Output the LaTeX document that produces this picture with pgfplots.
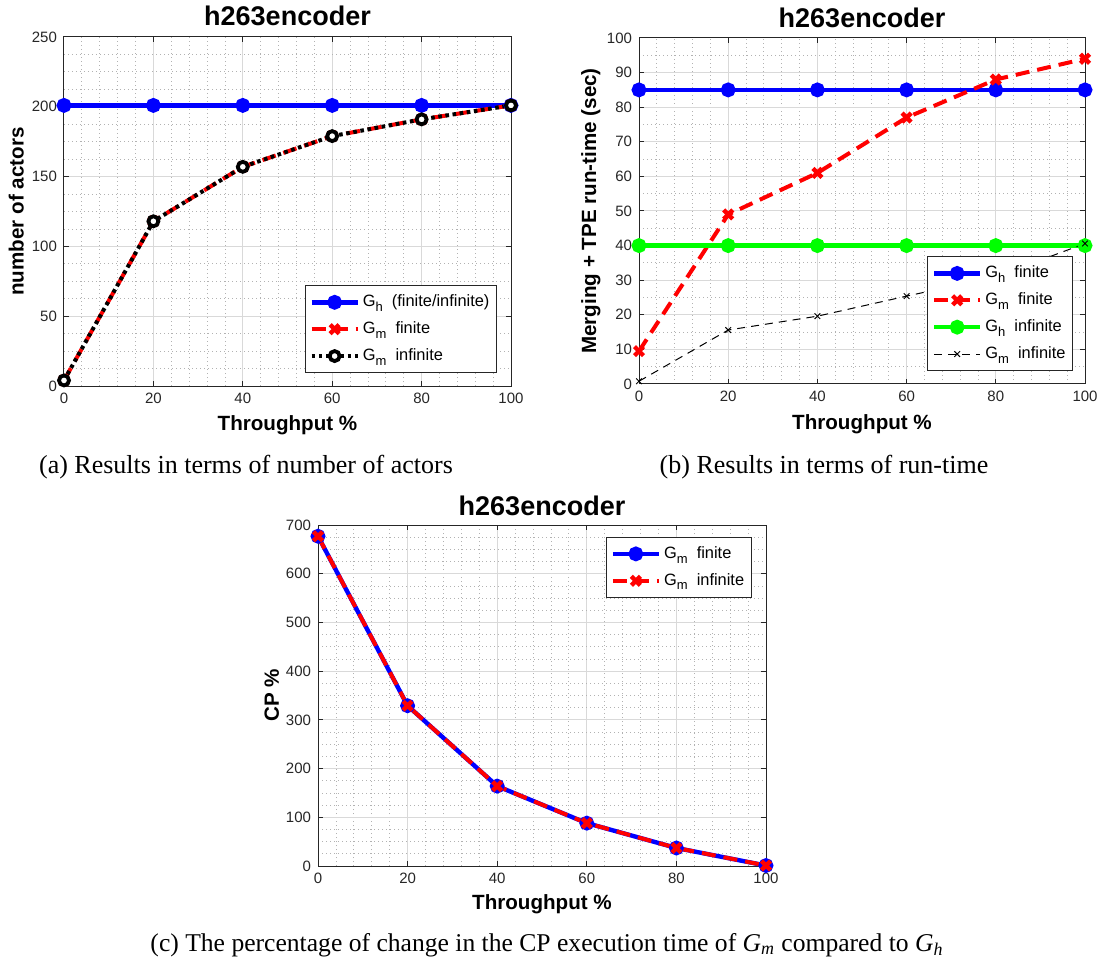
\documentclass[border=0pt]{standalone}
\usepackage{fontspec}
\setmainfont{Liberation Sans}
\newfontfamily\capfont{Liberation Serif}
\usepackage{pgfplots}
\pgfplotsset{compat=1.18}

\definecolor{axgray}{RGB}{38,38,38}
\definecolor{mgreen}{RGB}{0,255,0}
\newcommand{\sub}[1]{\raisebox{-0.55ex}{\fontsize{6.5}{7}\selectfont #1}}

\pgfplotsset{
 mystyle/.style={
  scale only axis,
  anchor=south west,
  xmin=0, xmax=100, xtick={0,20,...,100},
  minor x tick num=4,
  grid=both,
  major grid style={draw=black!15, line width=0.5pt},
  minor grid style={draw=black!30, dash pattern=on 0.5pt off 1.5pt, line width=0.4pt},
  axis line style={draw=axgray, line width=0.5pt},
  major tick length=2.5pt, minor tick length=0pt,
  tick style={draw=axgray, line width=0.5pt},
  tick align=inside,
  ticklabel style={font=\fontsize{7.5}{9}\selectfont, text=axgray},
  /pgf/number format/assume math mode=true,
  title style={font=\fontsize{13.5}{15}\selectfont\bfseries, at={(axis description cs:0.5,1)}, anchor=base},
  label style={font=\fontsize{10.3}{12}\selectfont\bfseries},
  xlabel style={at={(axis description cs:0.5,0)}, anchor=base},
  ylabel style={anchor=center},
  legend style={font=\fontsize{8.2}{10}\selectfont, draw=axgray, line width=0.5pt,
     inner xsep=2pt, inner ysep=2.5pt, row sep=2pt, fill=white,
     nodes={inner xsep=1.5pt}},
  legend cell align=left,
  legend image code/.code={\draw[mark repeat=2,mark phase=2] plot coordinates {(0pt,0pt) (11.5pt,0pt) (23pt,0pt)};},
 },
 thickblue/.style={draw=blue, line width=2.2pt, mark=*, mark size=2.6pt, mark options={solid, fill=blue}},
 thickred/.style={draw=red, line width=2pt, dash pattern=on 7pt off 4pt, mark=x, mark size=3.2pt, mark options={solid, line width=2.2pt}},
 thickgreen/.style={draw=mgreen, line width=2.2pt, mark=*, mark size=2.6pt, mark options={solid, fill=mgreen}},
}

\begin{document}
\begin{tikzpicture}
\useasboundingbox (0,0) rectangle (548.5pt,482.5pt);

% (a)
\begin{axis}[mystyle,
  at={(32pt,289.5pt)}, width=223.5pt, height=174.5pt,
  ymin=0, ymax=250, ytick={0,50,...,250}, minor y tick num=3,
  title={h263encoder}, title style={yshift=-0.5pt},
  xlabel={Throughput \%}, xlabel style={yshift=-22pt},
  ylabel={number of actors}, ylabel style={at={(axis description cs:-0.107,0.5)}},
  legend style={at={(axis description cs:0.9686,0.0372)}, anchor=south east},
]
\addplot[thickblue] coordinates {(0,201) (20,201) (40,201) (60,201) (80,201) (100,201)};
\addlegendentry{G\sub{h}\ \ (finite/infinite)}
\addplot[thickred] coordinates {(0,4) (20,118) (40,157) (60,179) (80,191) (100,201)};
\addlegendentry{G\sub{m}\ \ finite}
\addplot[draw=black, line width=2pt, dash pattern=on 1.8pt off 1.8pt, mark=*, mark size=2.5pt, mark options={solid, fill=white, draw=black, line width=1.9pt}] coordinates {(0,4) (20,118) (40,157) (60,179) (80,191) (100,201)};
\addlegendentry{G\sub{m}\ \ infinite}
\end{axis}

% (b)
\begin{axis}[mystyle,
  at={(319.5pt,290.5pt)}, width=223pt, height=173pt,
  ymin=0, ymax=100, ytick={0,10,...,100}, minor y tick num=1,
  title={h263encoder}, title style={yshift=-1pt},
  xlabel={Throughput \%}, xlabel style={yshift=-23pt},
  ylabel={Merging + TPE run-time (sec)}, ylabel style={at={(axis description cs:-0.108,0.5)}},
  legend style={at={(axis description cs:0.973,0.0376)}, anchor=south east},
]
\addplot[thickblue] coordinates {(0,85) (20,85) (40,85) (60,85) (80,85) (100,85)};
\addlegendentry{G\sub{h}\ \ finite}
\addplot[thickred] coordinates {(0,9.5) (20,49) (40,61) (60,77) (80,88) (100,94)};
\addlegendentry{G\sub{m}\ \ finite}
\addplot[thickgreen] coordinates {(0,40) (20,40) (40,40) (60,40) (80,40) (100,40)};
\addlegendentry{G\sub{h}\ \ infinite}
\addplot[draw=black, line width=0.5pt, dash pattern=on 4pt off 3pt, mark=x, mark size=2pt, mark options={solid}] coordinates {(0,0.8) (20,15.6) (40,19.6) (60,25.4) (80,31) (100,40.6)};
\addlegendentry{G\sub{m}\ \ infinite}
\end{axis}

% (c)
\begin{axis}[mystyle,
  at={(159pt,49.5pt)}, width=224pt, height=170.5pt,
  ymin=0, ymax=700, ytick={0,100,...,700}, minor y tick num=3,
  title={h263encoder}, title style={yshift=-1pt},
  xlabel={Throughput \%}, xlabel style={yshift=-21.5pt},
  ylabel={CP \%}, ylabel style={at={(axis description cs:-0.103,0.5)}},
  legend style={at={(axis description cs:0.968,0.965)}, anchor=north east},
]
\addplot[thickblue] coordinates {(0,677) (20,329) (40,164) (60,88) (80,37) (100,1)};
\addlegendentry{G\sub{m}\ \ finite}
\addplot[thickred] coordinates {(0,677) (20,329) (40,164) (60,88) (80,37) (100,1)};
\addlegendentry{G\sub{m}\ \ infinite}
\end{axis}

% captions
\node[font=\capfont\fontsize{13}{15}\selectfont, anchor=center] at (123pt,249pt) {(a) Results in terms of number of actors};
\node[font=\capfont\fontsize{13}{15}\selectfont, anchor=center] at (412pt,249pt) {(b) Results in terms of run-time};
\node[font=\capfont\fontsize{12.8}{15}\selectfont, anchor=center] at (273.5pt,10pt) {(c) The percentage of change in the CP execution time of \textit{G}\textsubscript{\textit{m}} compared to \textit{G}\textsubscript{\textit{h}}};
\end{tikzpicture}
\end{document}
